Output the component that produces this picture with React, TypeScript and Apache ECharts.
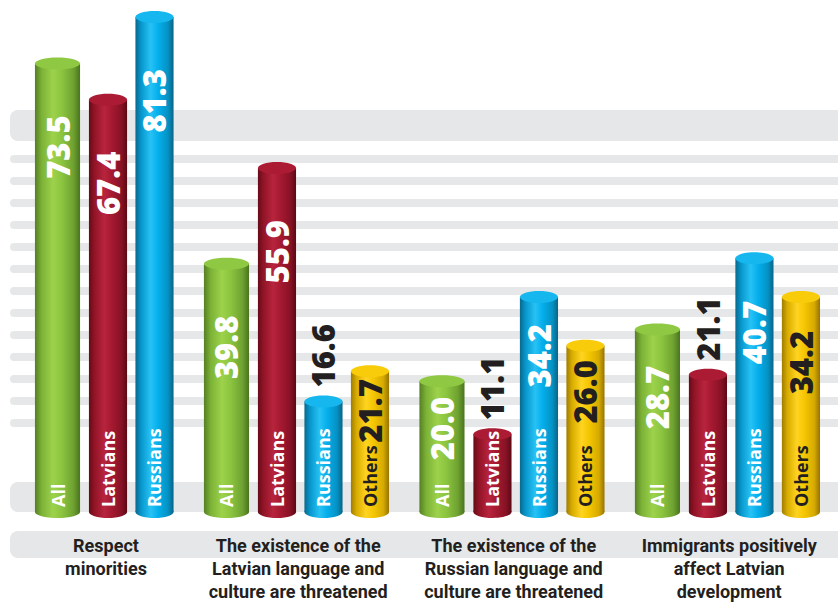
import React, { useEffect, useRef } from "react";
import * as echarts from "echarts";

// ---- data ----
const groupLabels = [
  "Respect\nminorities",
  "The existence of the\nLatvian language and\nculture are threatened",
  "The existence of the\nRussian language and\nculture are threatened",
  "Immigrants positively\naffect Latvian\ndevelopment",
];
const seriesNames = ["All", "Latvians", "Russians", "Others"];
const allValues = [73.5, 39.8, 20.0, 28.7];
const latviansValues = [67.4, 55.9, 11.1, 21.1];
const russiansValues = [81.3, 16.6, 34.2, 40.7];
const othersValues: (number | null)[] = [null, 21.7, 26.0, 34.2];

// ---- styles ----
const bodyStops = [
  ["#557f24", "#7cb236", "#9dd24b", "#8bc43f", "#6fa231", "#4a741f"],
  ["#660b18", "#921427", "#b8243d", "#a51930", "#871226", "#5c0915"],
  ["#09688d", "#0797cd", "#27c2f5", "#04aeeb", "#0592c4", "#0a6487"],
  ["#a07c00", "#d9ad00", "#ffd421", "#f4c500", "#d6aa00", "#977300"],
];
const topColors = ["#8fc842", "#ab1c34", "#16b7ef", "#f8cc0a"];
const insideText = ["#ffffff", "#ffffff", "#ffffff", "#231f20"];
const darkText = "#231f20";
const stripeColor = "#e6e7e8";
const Y_MIN = -2;
const Y_MAX = 84;

const valueFont = { size: 31, weight: 800, family: '"Open Sans", sans-serif' };
const catFont = { size: 18, weight: 700, family: '"Open Sans", sans-serif' };

let measureCtx: CanvasRenderingContext2D | null = null;
function textWidth(t: string, size: number, weight: number, family: string) {
  if (!measureCtx) measureCtx = document.createElement("canvas").getContext("2d");
  if (!measureCtx) return t.length * size * 0.55;
  measureCtx.font = `${weight} ${size}px ${family}`;
  return measureCtx.measureText(t).width;
}

function buildLayout() {
  const valuesBySeries = [allValues, latviansValues, russiansValues, othersValues];
  const bars: number[][] = [];
  const centers: number[][] = [];
  let pos = 0;
  for (let g = 0; g < groupLabels.length; g++) {
    let first: number | null = null;
    let prevS = -1;
    for (let s = 0; s < seriesNames.length; s++) {
      const v = valuesBySeries[s][g];
      if (v == null) continue;
      if (first === null) {
        if (g > 0) pos += 1.548;
        first = pos;
      } else {
        pos += prevS === 0 ? 1.086 : 1.0;
      }
      prevS = s;
      bars.push([pos, v, s, g]);
    }
    centers.push([((first as number) + pos) / 2, Y_MIN, g]);
  }
  return { bars, centers };
}

export default function App() {
  const ref = useRef<HTMLDivElement>(null);
  useEffect(() => {
    if (!ref.current) return;
    const chart = echarts.init(ref.current, null, { renderer: "svg" });
    const { bars, centers } = buildLayout();

    const stripes: any[] = [];
    stripes.push({ type: "rect", z: 0, shape: { x: 10, y: 110, width: 840, height: 31, r: 8 }, style: { fill: stripeColor } });
    for (let i = 0; i < 13; i++) {
      stripes.push({ type: "rect", z: 0, shape: { x: 10, y: 155 + 22 * i, width: 840, height: 8, r: 4 }, style: { fill: stripeColor } });
    }
    stripes.push({ type: "rect", z: 0, shape: { x: 10, y: 482, width: 840, height: 30, r: 8 }, style: { fill: stripeColor } });
    stripes.push({ type: "rect", z: 0, shape: { x: 10, y: 531, width: 840, height: 27, r: 8 }, style: { fill: stripeColor } });

    const renderBar = (params: any, api: any) => {
      const x = api.value(0);
      const v = api.value(1);
      const s = api.value(2);
      const top = api.coord([x, v]);
      const base = api.coord([x, Y_MIN]);
      const w = api.size([s === 0 ? 0.97 : 0.82, 0])[0];
      const rx = w / 2;
      const ry = 6;
      const cx = top[0];
      const h = base[1] - top[1];
      const stops = bodyStops[s];
      const grad = () =>
        new echarts.graphic.LinearGradient(0, 0, 1, 0, [
          { offset: 0, color: stops[0] },
          { offset: 0.15, color: stops[1] },
          { offset: 0.4, color: stops[2] },
          { offset: 0.6, color: stops[3] },
          { offset: 0.85, color: stops[4] },
          { offset: 1, color: stops[5] },
        ]);
      const valText = v.toFixed(1);
      const catText = seriesNames[s];
      const valLen = textWidth(valText, valueFont.size, valueFont.weight, valueFont.family);
      const catLen = textWidth(catText, catFont.size, catFont.weight, catFont.family);
      const inside = h >= catLen + valLen + 6;
      const children: any[] = [
        { type: "rect", shape: { x: cx - rx, y: top[1], width: w, height: h }, style: { fill: grad() } },
        { type: "ellipse", shape: { cx, cy: base[1], rx, ry }, style: { fill: grad() } },
        { type: "ellipse", shape: { cx, cy: top[1], rx, ry }, style: { fill: topColors[s] } },
        {
          type: "text",
          x: cx,
          y: base[1] - 5,
          rotation: Math.PI / 2,
          style: {
            text: catText,
            fill: insideText[s],
            fontSize: catFont.size,
            fontWeight: catFont.weight,
            fontFamily: catFont.family,
            align: "left",
            verticalAlign: "middle",
          },
        },
      ];
      if (inside) {
        const gap = Math.max(8, Math.min(52, (h - catLen - valLen - 5) * 0.4));
        children.push({
          type: "text",
          x: cx,
          y: top[1] + gap,
          rotation: Math.PI / 2,
          style: {
            text: valText,
            fill: insideText[s],
            fontSize: valueFont.size,
            fontWeight: valueFont.weight,
            fontFamily: valueFont.family,
            align: "right",
            verticalAlign: "middle",
          },
        });
      } else {
        children.push({
          type: "text",
          x: cx,
          y: top[1] - 14,
          rotation: Math.PI / 2,
          style: {
            text: valText,
            fill: darkText,
            fontSize: valueFont.size,
            fontWeight: valueFont.weight,
            fontFamily: valueFont.family,
            align: "left",
            verticalAlign: "middle",
          },
        });
      }
      return { type: "group", children };
    };

    const renderGroupLabel = (params: any, api: any) => {
      const c = api.value(0);
      const g = api.value(2);
      const p = api.coord([c, Y_MIN]);
      return {
        type: "text",
        x: p[0],
        y: p[1] + 22,
        style: {
          text: groupLabels[g],
          fill: darkText,
          fontSize: 18,
          fontWeight: "bold",
          fontFamily: '"Liberation Sans Narrow", "Roboto", sans-serif',
          lineHeight: 23,
          align: "center",
          verticalAlign: "top",
        },
      };
    };

    chart.setOption({
      animation: false,
      graphic: { elements: stripes },
      grid: { left: 11, right: 13.25, top: 1, bottom: 92 },
      xAxis: { type: "value", min: -1, max: 16.5, show: false },
      yAxis: { type: "value", min: Y_MIN, max: Y_MAX, show: false },
      series: [
        {
          type: "custom",
          name: "bars",
          z: 3,
          clip: false,
          renderItem: renderBar,
          encode: { x: 0, y: 1 },
          data: bars,
        },
        {
          type: "custom",
          name: "groups",
          z: 3,
          clip: false,
          renderItem: renderGroupLabel,
          encode: { x: 0, y: 1 },
          data: centers,
        },
      ],
    });
    return () => chart.dispose();
  }, []);
  return <div ref={ref} style={{ position: "absolute", left: 0, top: 0, width: 838, height: 604 }} />;
}
